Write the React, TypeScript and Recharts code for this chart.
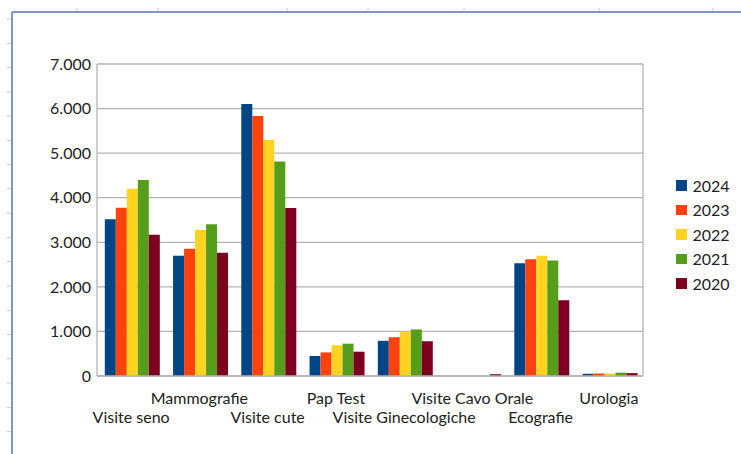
import { BarChart, Bar, XAxis, YAxis, CartesianGrid, Legend } from 'recharts';

const CATEGORIES = [
  'Visite seno',
  'Mammografie',
  'Visite cute',
  'Pap Test',
  'Visite Ginecologiche',
  'Visite Cavo Orale',
  'Ecografie',
  'Urologia',
];
const YEARS = ['2024', '2023', '2022', '2021', '2020'];
const V2024 = [3515, 2700, 6100, 450, 790, 0, 2530, 50];
const V2023 = [3775, 2855, 5835, 530, 870, 0, 2620, 55];
const V2022 = [4200, 3275, 5295, 690, 995, 0, 2700, 55];
const V2021 = [4400, 3405, 4815, 725, 1045, 0, 2590, 75];
const V2020 = [3170, 2765, 3770, 545, 780, 40, 1700, 65];
const Y_TICKS = [0, 1000, 2000, 3000, 4000, 5000, 6000, 7000];

const COLORS = ['#004586', '#ff420e', '#ffd320', '#579d1c', '#7e0021'];
const SERIES = [V2024, V2023, V2022, V2021, V2020];

const data = CATEGORIES.map((name, i) => {
  const row: any = { name };
  YEARS.forEach((y, s) => (row[y] = SERIES[s][i]));
  return row;
});

const FONT = 'Lato, "Open Sans", sans-serif';
const TEXT = '#222';
const LINE = '#b3b3b3';

// spreadsheet frame decoration (cell borders around the chart object)
const FRAME = '#7d98c4';
const COL_MARKS = [77, 158, 287, 368, 464, 599, 713];
const ROW_MARKS = Array.from({ length: 18 }, (_, k) => 19 + k * 24.27);

const fmt = (v: number) => String(v).replace(/\B(?=(\d{3})+(?!\d))/g, '.');

function CategoryTick(props: any) {
  const { x, y, payload, index } = props;
  const upper = index % 2 === 1;
  return (
    <text
      x={x}
      y={y + (upper ? 27.5 : 47)}
      textAnchor="middle"
      fill={TEXT}
      fontFamily={FONT}
      fontSize={16}
    >
      {payload.value}
    </text>
  );
}

function YearLegend() {
  return (
    <div style={{ fontFamily: FONT, fontSize: 16, color: TEXT }}>
      {YEARS.map((y, i) => (
        <div key={y} style={{ display: 'flex', alignItems: 'center', height: 24.5 }}>
          <span style={{ width: 10.5, height: 10.5, background: COLORS[i], marginRight: 6, display: 'inline-block' }} />
          <span>{y}</span>
        </div>
      ))}
    </div>
  );
}

export default function App() {
  return (
    <div style={{ position: 'absolute', left: 0, top: 0, width: 741, height: 454, background: '#fff' }}>
      <BarChart
        width={741}
        height={454}
        data={data}
        margin={{ top: 64, right: 98, bottom: 30, left: 0 }}
        barCategoryGap={7.8}
        barGap={0}
      >
        <CartesianGrid
          stroke={LINE}
          strokeWidth={1.3}
          vertical={true}
          verticalCoordinatesGenerator={(p: any) => [p.offset ? p.offset.left + p.offset.width : 643]}
        />
        <XAxis
          dataKey="name"
          interval={0}
          height={48}
          tickLine={false}
          tickSize={0}
          tickMargin={0}
          axisLine={{ stroke: LINE, strokeWidth: 1.3 }}
          tick={<CategoryTick />}
        />
        <YAxis
          width={97}
          domain={[0, 7000]}
          ticks={Y_TICKS}
          tickFormatter={fmt}
          tickLine={false}
          tickSize={0}
          tickMargin={6}
          axisLine={{ stroke: LINE, strokeWidth: 1.3 }}
          tick={{ fill: TEXT, fontFamily: FONT, fontSize: 16 }}
        />
        <Legend
          layout="vertical"
          align="center"
          verticalAlign="middle"
          content={<YearLegend />}
          wrapperStyle={{ left: 676, top: 173, width: 65 }}
        />
        {YEARS.map((y, i) => (
          <Bar key={y} dataKey={y} fill={COLORS[i]} isAnimationActive={false} />
        ))}
      </BarChart>
      <svg
        width={741}
        height={454}
        style={{ position: 'absolute', left: 0, top: 0, pointerEvents: 'none' }}
      >
        <line x1={12} y1={12} x2={741} y2={12} stroke={FRAME} strokeWidth={2} />
        <line x1={12} y1={12} x2={12} y2={454} stroke={FRAME} strokeWidth={2} />
        {COL_MARKS.map((x) => (
          <line key={x} x1={x} y1={8} x2={x} y2={11} stroke="#c8c8c8" strokeWidth={1} />
        ))}
        {ROW_MARKS.map((y) => (
          <line key={y} x1={7} y1={y} x2={11} y2={y} stroke="#c8c8c8" strokeWidth={1} />
        ))}
      </svg>
    </div>
  );
}
